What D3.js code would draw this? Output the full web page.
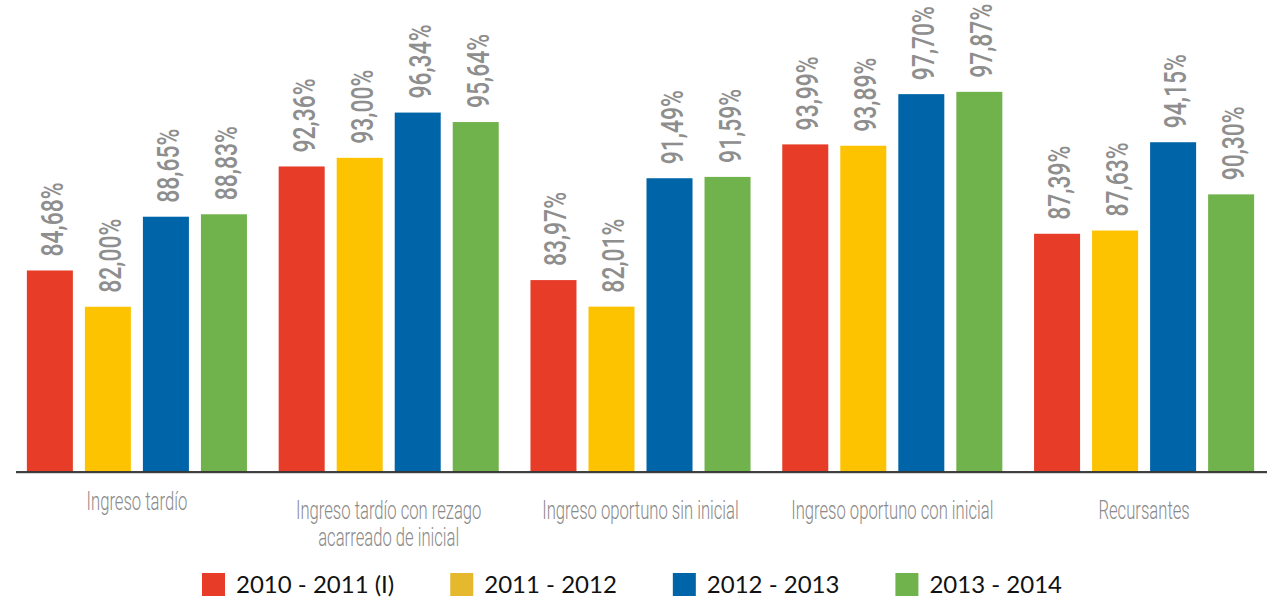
<!DOCTYPE html>
<html>
<head>
<meta charset="utf-8">
<script src="https://cdn.jsdelivr.net/npm/d3@7"></script>
<style>
  body { margin: 0; background: #fff; }
  svg { display: block; }
</style>
</head>
<body>
<script>
// categories ("\n" = line break in the axis label)
let categories = [
  "Ingreso tardío",
  "Ingreso tardío con rezago\nacarreado de inicial",
  "Ingreso oportuno sin inicial",
  "Ingreso oportuno con inicial",
  "Recursantes"
];

let series = ["2010 - 2011 (I)", "2011 - 2012", "2012 - 2013", "2013 - 2014"];

let values2010 = [84.68, 92.36, 83.97, 93.99, 87.39];
let values2011 = [82.00, 93.00, 82.01, 93.89, 87.63];
let values2012 = [88.65, 96.34, 91.49, 97.70, 94.15];
let values2013 = [88.83, 95.64, 91.59, 97.87, 90.30];

let barColors = ["#e63c28", "#fdc300", "#0064a8", "#70b24b"];
let legendColors = ["#e63c28", "#e6b82e", "#0064a8", "#70b24b"];

let allValues = [values2010, values2011, values2012, values2013];

let width = 1267,
  height = 598,
  baseY = 472;

let svg = d3
  .select("body")
  .append("svg")
  .attr("width", width)
  .attr("height", height);

let x0 = d3.scaleBand().domain(categories).range([11, 1270]).paddingInner(0.126).paddingOuter(0.063);
let x1 = d3.scaleBand().domain(series).range([0, x0.bandwidth()]).paddingInner(0.207);
let y = d3.scaleLinear().domain([69.8, 100]).range([baseY, 63]);

let fmt = (v) => d3.format(".2f")(v).replace(".", ",") + "%";

// flatten to one record per bar
let bars = [];
categories.forEach((c, i) => {
  series.forEach((s, j) => {
    bars.push({ cat: c, ser: s, si: j, value: allValues[j][i] });
  });
});

let groups = svg.append("g");

groups
  .selectAll("rect")
  .data(bars)
  .enter()
  .append("rect")
  .attr("x", (d) => x0(d.cat) + x1(d.ser))
  .attr("y", (d) => y(d.value))
  .attr("width", x1.bandwidth())
  .attr("height", (d) => baseY - y(d.value))
  .attr("fill", (d) => barColors[d.si]);

// value labels, rotated
groups
  .selectAll("text.val")
  .data(bars)
  .enter()
  .append("text")
  .attr("class", "val")
  .attr("transform", function (d) {
    let cx = x0(d.cat) + x1(d.ser) + x1.bandwidth() / 2 + 13;
    return "translate(" + cx + "," + (y(d.value) - 14) + ") rotate(-90) scale(0.74,1)";
  })
  .attr("font-family", "Roboto, sans-serif")
  .attr("font-size", 31)
  .attr("font-weight", 500)
  .attr("fill", "#8e8e8e")
  .text((d) => fmt(d.value));

// axis line
svg
  .append("line")
  .attr("x1", 16)
  .attr("x2", width)
  .attr("y1", baseY + 0.5)
  .attr("y2", baseY + 0.5)
  .attr("stroke", "#c8c8c8")
  .attr("stroke-width", 2.5);
svg
  .append("line")
  .attr("x1", 16)
  .attr("x2", width)
  .attr("y1", baseY)
  .attr("y2", baseY)
  .attr("stroke", "#111")
  .attr("stroke-width", 1.5);

// category labels
let catLabels = svg
  .selectAll("text.cat")
  .data(categories)
  .enter()
  .append("text")
  .attr("class", "cat")
  .attr("transform", (d, i) => "translate(" + (x0(d) + x0.bandwidth() / 2) + "," + (i == 0 ? 510 : 519) + ") scale(0.64,1)")
  .attr("text-anchor", "middle")
  .attr("font-family", "Roboto, sans-serif")
  .attr("font-weight", 300)
  .attr("font-size", 26)
  .attr("fill", "#8a8a8a");

catLabels
  .selectAll("tspan")
  .data((d) => d.split("\n"))
  .enter()
  .append("tspan")
  .attr("x", 0)
  .attr("dy", (d, i) => (i == 0 ? 0 : 27.5))
  .text((d) => d);

// legend
let legend = svg.append("g");
let lx = 202;
series.forEach((s, i) => {
  let item = legend.append("g").attr("transform", "translate(" + lx + ",0)");
  item
    .append("rect")
    .attr("x", 0)
    .attr("y", 573)
    .attr("width", 23)
    .attr("height", 23)
    .attr("fill", legendColors[i]);
  let t = item
    .append("text")
    .attr("x", 34)
    .attr("y", 593)
    .attr("font-family", "Lato, sans-serif")
    .attr("font-size", 24)
    .attr("fill", "#111")
    .text(s);
  lx += 34 + t.node().getComputedTextLength() + 56;
});
</script>
</body>
</html>
